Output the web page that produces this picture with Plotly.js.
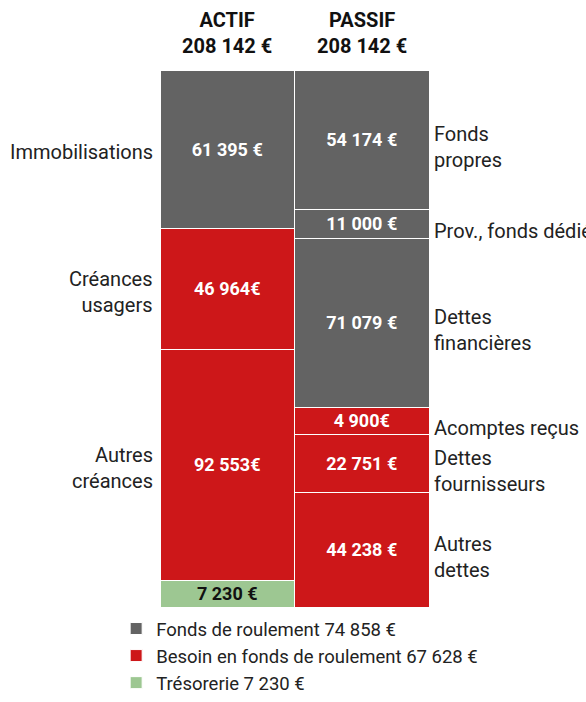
<!DOCTYPE html>
<html>
<head>
<meta charset="utf-8">
<script src="https://cdn.plot.ly/plotly-3.0.1.min.js"></script>
<style>
  html, body { margin: 0; padding: 0; background: #fff; }
  #chart { width: 586px; height: 702px; }
</style>
</head>
<body>
<div id="chart"></div>
<script>
// Bars and their totals
var barNames = ['ACTIF', 'PASSIF'];
var barTotalTexts = ['208 142 €', '208 142 €'];

// ACTIF segments, top to bottom
var actifLabels = ['Immobilisations', 'Créances<br>usagers', 'Autres<br>créances', ''];
var actifValues = [61395, 46964, 92553, 7230];
var actifTexts = ['61 395 €', '46 964€', '92 553€', '7 230 €'];
var actifKinds = ['fr', 'bfr', 'bfr', 'treso'];

// PASSIF segments, top to bottom
var passifLabels = ['Fonds<br>propres', 'Prov., fonds dédiés', 'Dettes<br>financières', 'Acomptes reçus', 'Dettes<br>fournisseurs', 'Autres<br>dettes'];
var passifValues = [54174, 11000, 71079, 4900, 22751, 44238];
var passifTexts = ['54 174 €', '11 000 €', '71 079 €', '4 900€', '22 751 €', '44 238 €'];
var passifKinds = ['fr', 'fr', 'fr', 'bfr', 'bfr', 'bfr'];

// Legend
var legendKeys = ['fr', 'bfr', 'treso'];
var legendLabels = ['Fonds de roulement 74 858 €', 'Besoin en fonds de roulement 67 628 €', 'Trésorerie 7 230 €'];

var kindColors = {fr: '#636363', bfr: '#cd1719', treso: '#9dc792'};
var FONT = 'Roboto, "Noto Sans", sans-serif';

// small segments get a minimum visible height, taken from the biggest one
function displayHeights(values) {
  var total = values.reduce(function(a, b) { return a + b; }, 0);
  var minH = total * 0.05;
  var out = values.map(function(v) { return Math.max(v, minH); });
  var extra = out.reduce(function(a, b) { return a + b; }, 0) - total;
  var big = values.indexOf(Math.max.apply(null, values));
  out[big] -= extra;
  return out;
}

var traces = [];
var annotations = [];
var seen = {};

function addBar(barName, labels, values, texts, kinds, side) {
  var heights = displayHeights(values);
  var cum = 0;
  for (var i = 0; i < values.length; i++) {
    var kind = kinds[i];
    var first = !seen[kind];
    seen[kind] = true;
    traces.push({
      type: 'bar',
      x: [barName],
      y: [heights[i]],
      text: [texts[i]],
      textposition: 'inside',
      insidetextanchor: 'middle',
      textangle: 0,
      textfont: {family: FONT, size: 18, weight: 700, color: kind === 'treso' ? '#111' : '#fff'},
      marker: {color: kindColors[kind], line: {color: '#fff', width: 1}},
      name: legendLabels[legendKeys.indexOf(kind)],
      legendgroup: kind,
      showlegend: first,
      hoverinfo: 'skip'
    });
    var mid = cum + heights[i] / 2;
    cum += heights[i];
    if (labels[i]) {
      annotations.push({
        xref: 'paper', yref: 'y',
        x: side === 'left' ? 0 : 1,
        y: mid,
        xanchor: side === 'left' ? 'right' : 'left',
        xshift: side === 'left' ? -5 : 3,
        yshift: side === 'left' ? -3 : -7,
        align: side === 'left' ? 'right' : 'left',
        text: labels[i],
        showarrow: false,
        font: {family: FONT, size: 20, color: '#222'}
      });
    }
  }
}

addBar(barNames[0], actifLabels, actifValues, actifTexts, actifKinds, 'left');
addBar(barNames[1], passifLabels, passifValues, passifTexts, passifKinds, 'right');

barNames.forEach(function(name, i) {
  annotations.push({
    xref: 'x', yref: 'paper', x: name, y: 1,
    yanchor: 'bottom', yshift: 10,
    text: '<b>' + name + '</b><br><b>' + barTotalTexts[i] + '</b>',
    showarrow: false,
    font: {family: FONT, size: 20, color: '#111'}
  });
});

var total = actifValues.reduce(function(a, b) { return a + b; }, 0);

var layout = {
  width: 586, height: 702,
  margin: {l: 160, r: 157, t: 70, b: 0},
  barmode: 'stack',
  bargap: 0,
  plot_bgcolor: 'white',
  paper_bgcolor: 'white',
  font: {family: FONT, color: '#222'},
  xaxis: {visible: false, type: 'category', fixedrange: true},
  yaxis: {visible: false, range: [total, 0], fixedrange: true, domain: [0.1503, 1]},
  uniformtext: {mode: 'show', minsize: 18},
  showlegend: true,
  legend: {
    x: -0.163, xanchor: 'left', y: 0, yanchor: 'bottom',
    traceorder: 'normal', tracegroupgap: 0,
    font: {family: FONT, size: 18.5, color: '#222'},
    bgcolor: 'rgba(0,0,0,0)'
  },
  annotations: annotations
};

Plotly.newPlot('chart', traces, layout, {displayModeBar: false, staticPlot: true});
</script>
</body>
</html>
